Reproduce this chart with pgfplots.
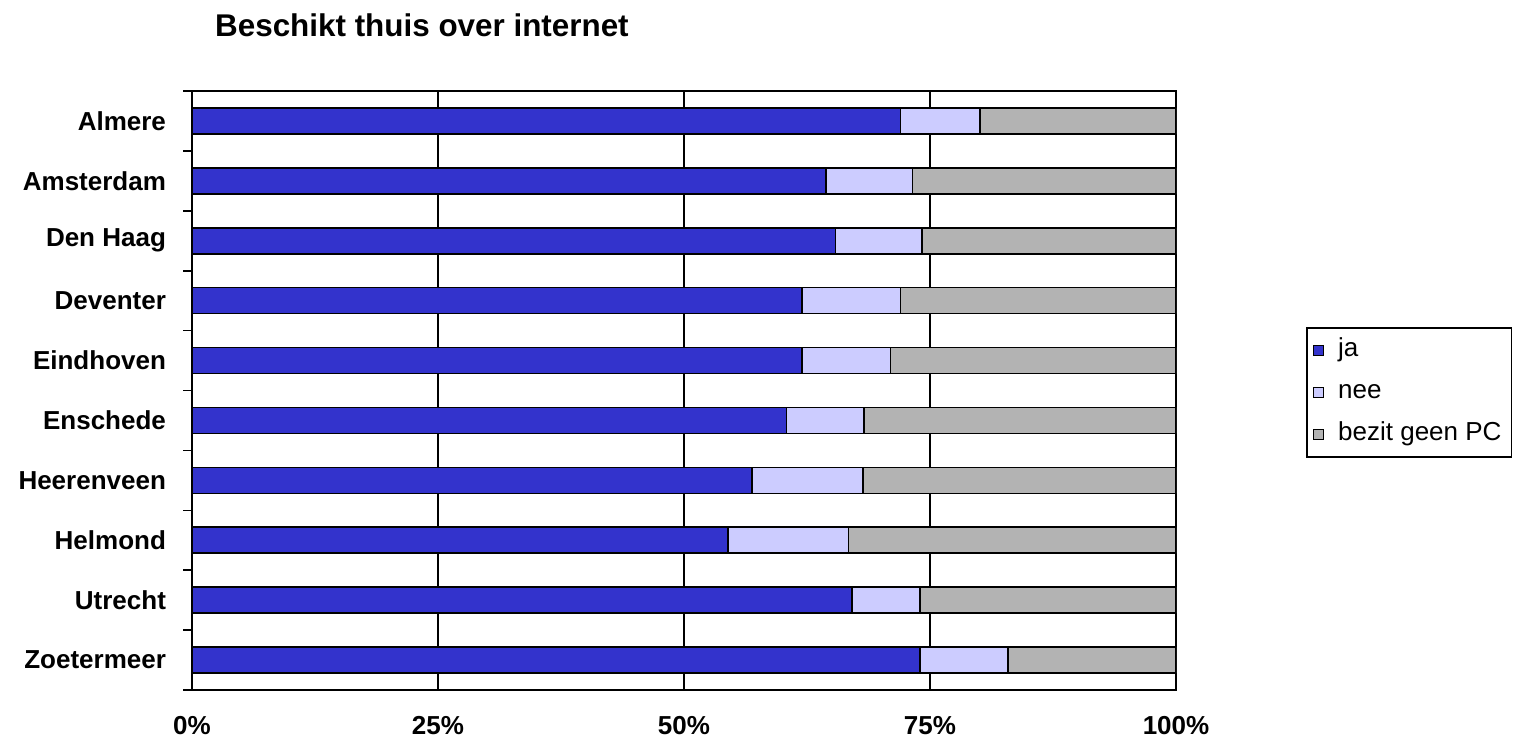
\documentclass[border=0pt]{standalone}
\usepackage{fontspec}
\setmainfont{Liberation Sans}
\usepackage{pgfplots}
\pgfplotsset{compat=1.18}

\definecolor{ja}{RGB}{51,51,204}
\definecolor{nee}{RGB}{204,204,255}
\definecolor{geen}{RGB}{179,179,179}

\begin{document}
\begin{tikzpicture}
\useasboundingbox (0,0) rectangle (759pt,370.5pt);
\begin{axis}[
    at={(96pt,25.5pt)}, anchor=south west,
    scale only axis,
    width=492pt, height=299.5pt,
    xbar stacked,
    bar width=13pt,
    y dir=reverse,
    xmin=0, xmax=100,
    ymin=-0.5, ymax=9.5,
    xtick={0,25,50,75,100},
    xticklabels={0\%,25\%,50\%,75\%,100\%},
    xmajorgrids,
    major grid style={black, line width=0.8pt},
    ytick={0,...,9},
    yticklabels={Almere,Amsterdam,Den Haag,Deventer,Eindhoven,Enschede,Heerenveen,Helmond,Utrecht,Zoetermeer},
    minor ytick={-0.5,0.5,...,9.5},
    ytick pos=left, xtick pos=bottom,
    major tick length=0pt,
    minor tick length=4.5pt,
    tick align=outside,
    tick style={black, line width=0.8pt},
    axis line style={black, line width=0.8pt},
    xticklabel style={font=\bfseries\fontsize{13}{15}\selectfont, yshift=-9.5pt},
    yticklabel style={font=\bfseries\fontsize{13}{15}\selectfont, xshift=-9.5pt},
    title={Beschikt thuis over internet},
    title style={font=\bfseries\fontsize{15.7}{18}\selectfont, yshift=-10pt, at={(0.2337,1.0918)}},
    legend style={at={(1.1321,0.606)}, anchor=north west, draw=black, line width=0.8pt,
        font=\fontsize{13}{15}\selectfont, row sep=4.5pt, inner sep=3pt,
        cells={anchor=west},
        nodes={text height=9.5pt, text depth=3pt}},
    legend image code/.code={\draw[#1, draw=black, line width=0.6pt] (0pt,-2.6pt) rectangle (5.2pt,2.6pt); \path (10pt,0pt);},
    every axis plot/.append style={draw=black, line width=0.8pt},
]
\addplot[fill=ja] coordinates {
(72.0,0) (64.4,1) (65.4,2) (62.0,3) (62.0,4) (60.4,5) (56.9,6) (54.5,7) (67.1,8) (74.0,9)};
\addplot[fill=nee] coordinates {
(8.1,0) (8.8,1) (8.8,2) (10.0,3) (9.0,4) (7.9,5) (11.3,6) (12.2,7) (6.9,8) (8.9,9)};
\addplot[fill=geen] coordinates {
(19.9,0) (26.8,1) (25.8,2) (28.0,3) (29.0,4) (31.7,5) (31.8,6) (33.3,7) (26.0,8) (17.1,9)};
\legend{ja,nee,bezit geen PC}
\end{axis}
\end{tikzpicture}
\end{document}
